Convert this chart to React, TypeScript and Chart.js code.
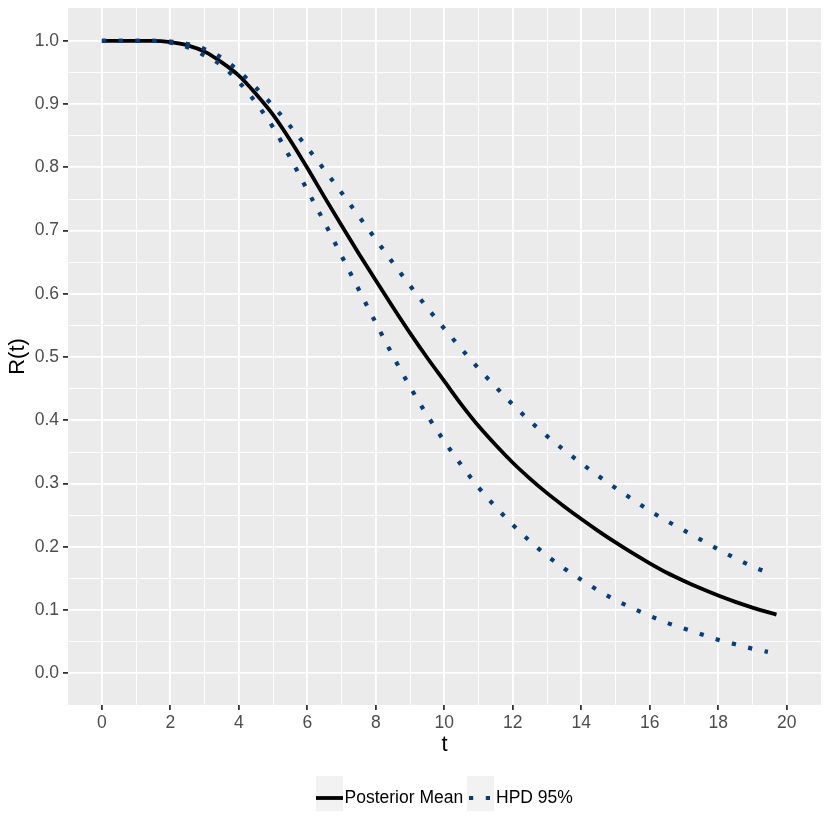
import React, { useEffect, useRef } from "react";
import { Chart, registerables } from "chart.js";

Chart.register(...registerables);

const tMean = [0, 0.5, 1, 1.5, 2, 2.5, 3, 3.5, 4, 4.5, 5, 5.5, 6, 6.5, 7, 7.5, 8, 8.5, 9, 9.5, 10, 10.5, 11, 11.5, 12, 12.5, 13, 13.5, 14, 14.5, 15, 15.5, 16, 16.5, 17, 17.5, 18, 18.5, 19, 19.5, 19.7];
const posteriorMean = [1.0, 1.0, 1.0, 1.0, 0.998, 0.993, 0.983, 0.966, 0.945, 0.916, 0.883, 0.843, 0.799, 0.753, 0.708, 0.664, 0.621, 0.579, 0.538, 0.499, 0.462, 0.425, 0.391, 0.361, 0.333, 0.308, 0.285, 0.264, 0.244, 0.225, 0.207, 0.19, 0.174, 0.159, 0.146, 0.134, 0.123, 0.113, 0.104, 0.096, 0.093];

const tUpper = [0, 0.5, 1, 1.5, 2, 2.5, 3, 3.5, 4, 4.5, 5, 5.5, 6, 6.5, 7, 7.5, 8, 8.5, 9, 9.5, 10, 10.5, 11, 11.5, 12, 12.5, 13, 13.5, 14, 14.5, 15, 15.5, 16, 16.5, 17, 17.5, 18, 18.5, 19, 19.6];
const hpdUpper = [1.0, 1.0, 1.0, 1.0, 0.999, 0.995, 0.987, 0.973, 0.952, 0.926, 0.897, 0.865, 0.831, 0.796, 0.76, 0.723, 0.686, 0.649, 0.613, 0.578, 0.545, 0.513, 0.482, 0.453, 0.425, 0.399, 0.375, 0.353, 0.332, 0.312, 0.293, 0.275, 0.257, 0.241, 0.226, 0.211, 0.196, 0.182, 0.169, 0.156];

const tLower = [0, 0.5, 1, 1.5, 2, 2.5, 3, 3.5, 4, 4.5, 5, 5.5, 6, 6.5, 7, 7.5, 8, 8.5, 9, 9.5, 10, 10.5, 11, 11.5, 12, 12.5, 13, 13.5, 14, 14.5, 15, 15.5, 16, 16.5, 17, 17.5, 18, 18.5, 19, 19.45];
const hpdLower = [1.0, 1.0, 1.0, 1.0, 0.997, 0.99, 0.977, 0.961, 0.935, 0.902, 0.863, 0.815, 0.764, 0.713, 0.66, 0.607, 0.554, 0.502, 0.453, 0.408, 0.367, 0.329, 0.294, 0.263, 0.235, 0.209, 0.186, 0.166, 0.148, 0.131, 0.116, 0.103, 0.091, 0.08, 0.071, 0.062, 0.053, 0.046, 0.039, 0.034];

const xMajorTicks = [0, 2, 4, 6, 8, 10, 12, 14, 16, 18, 20];
const xMinorTicks = [1, 3, 5, 7, 9, 11, 13, 15, 17, 19];
const yMajorTicks = [0, 0.1, 0.2, 0.3, 0.4, 0.5, 0.6, 0.7, 0.8, 0.9, 1.0];
const yMinorTicks = [0.05, 0.15, 0.25, 0.35, 0.45, 0.55, 0.65, 0.75, 0.85, 0.95];

const legendLabels = ["Posterior Mean", "HPD 95%"];

const HPD_COLOR = "#053e78";
const FONT = "'Liberation Sans', Arial, Helvetica, sans-serif";

const isMajor = (list: number[], v: number) => list.some((m) => Math.abs(m - v) < 1e-6);

export default function App() {
  const ref = useRef<HTMLCanvasElement | null>(null);

  useEffect(() => {
    if (!ref.current) return;
    const toXY = (xs: number[], ys: number[]) => xs.map((x, i) => ({ x, y: ys[i] }));

    const panelBg = {
      id: "panelBg",
      beforeDraw(chart: any) {
        const { ctx, chartArea } = chart;
        ctx.save();
        ctx.fillStyle = "#EBEBEB";
        ctx.fillRect(chartArea.left, chartArea.top, chartArea.right - chartArea.left, chartArea.bottom - chartArea.top);
        ctx.restore();
      },
    };

    const ggLegend = {
      id: "ggLegend",
      afterDraw(chart: any) {
        const { ctx } = chart;
        ctx.save();
        const cy = 798;
        ctx.fillStyle = "#F2F2F2";
        ctx.fillRect(316, 776, 27, 35);
        ctx.fillRect(467, 776, 27, 35);
        ctx.strokeStyle = "#000000";
        ctx.lineWidth = 3.8;
        ctx.beginPath();
        ctx.moveTo(316, cy);
        ctx.lineTo(343, cy);
        ctx.stroke();
        ctx.strokeStyle = HPD_COLOR;
        ctx.lineWidth = 4.2;
        ctx.setLineDash([4.2, 12.6]);
        ctx.beginPath();
        ctx.moveTo(469, cy);
        ctx.lineTo(494, cy);
        ctx.stroke();
        ctx.setLineDash([]);
        ctx.fillStyle = "#000000";
        ctx.font = `17.5px ${FONT}`;
        ctx.textBaseline = "middle";
        ctx.textAlign = "left";
        ctx.fillText(legendLabels[0], 344.5, cy);
        ctx.fillText(legendLabels[1], 496, cy);
        ctx.restore();
      },
    };

    const lineDefaults = {
      pointRadius: 0,
      cubicInterpolationMode: "monotone",
      fill: false,
    };

    const chart = new Chart(ref.current, {
      type: "line",
      data: {
        datasets: [
          {
            ...lineDefaults,
            label: legendLabels[1],
            data: toXY(tUpper, hpdUpper),
            borderColor: HPD_COLOR,
            borderWidth: 4.2,
            borderDash: [4.2, 12.6],
            borderCapStyle: "butt",
          },
          {
            ...lineDefaults,
            label: legendLabels[1] + " lower",
            data: toXY(tLower, hpdLower),
            borderColor: HPD_COLOR,
            borderWidth: 4.2,
            borderDash: [4.2, 12.6],
            borderCapStyle: "butt",
          },
          {
            ...lineDefaults,
            label: legendLabels[0],
            data: toXY(tMean, posteriorMean),
            borderColor: "#000000",
            borderWidth: 3.8,
          },
        ],
      },
      options: {
        animation: false,
        responsive: false,
        maintainAspectRatio: false,
        layout: { padding: { left: 0, top: 8, right: 9, bottom: 0 } },
        plugins: { legend: { display: false }, tooltip: { enabled: false } },
        scales: {
          x: {
            type: "linear",
            min: -0.99,
            max: 21.0,
            afterBuildTicks: (scale: any) => {
              scale.ticks = [...xMajorTicks, ...xMinorTicks].sort((a, b) => a - b).map((v) => ({ value: v }));
            },
            afterFit: (scale: any) => {
              scale.height = 125;
              scale.paddingLeft = 0;
              scale.paddingRight = 0;
            },
            border: { display: false },
            grid: {
              color: "#FFFFFF",
              lineWidth: (c: any) => (isMajor(xMajorTicks, c.tick.value) ? 1.8 : 0.9),
              tickColor: (c: any) => (isMajor(xMajorTicks, c.tick.value) ? "#333333" : "rgba(0,0,0,0)"),
              tickWidth: 1.8,
              tickLength: 5,
            },
            ticks: {
              autoSkip: false,
              maxRotation: 0,
              padding: 3,
              color: "#4D4D4D",
              font: { family: FONT, size: 17.5 },
              callback: (v: any) => (isMajor(xMajorTicks, Number(v)) ? String(v) : ""),
            },
            title: {
              display: true,
              text: "t",
              color: "#000000",
              font: { family: FONT, size: 22 },
              padding: { top: 0, bottom: 72 },
            },
          },
          y: {
            type: "linear",
            min: -0.05,
            max: 1.052,
            afterBuildTicks: (scale: any) => {
              scale.ticks = [...yMajorTicks, ...yMinorTicks].sort((a, b) => a - b).map((v) => ({ value: v }));
            },
            afterFit: (scale: any) => {
              scale.width = 68;
              scale.paddingTop = 0;
              scale.paddingBottom = 0;
            },
            border: { display: false },
            grid: {
              color: "#FFFFFF",
              lineWidth: (c: any) => (isMajor(yMajorTicks, c.tick.value) ? 1.8 : 0.9),
              tickColor: (c: any) => (isMajor(yMajorTicks, c.tick.value) ? "#333333" : "rgba(0,0,0,0)"),
              tickWidth: 1.8,
              tickLength: 5,
            },
            ticks: {
              autoSkip: false,
              padding: 4,
              color: "#4D4D4D",
              font: { family: FONT, size: 17.5 },
              callback: (v: any) => (isMajor(yMajorTicks, Number(v)) ? Number(v).toFixed(1) : ""),
            },
            title: {
              display: true,
              text: "R(t)",
              color: "#000000",
              font: { family: FONT, size: 22 },
              padding: { top: 5, bottom: 0 },
            },
          },
        },
      },
      plugins: [panelBg, ggLegend],
    } as any);

    return () => chart.destroy();
  }, []);

  return (
    <div style={{ position: "fixed", left: 0, top: 0, width: 830, height: 830, background: "#FFFFFF" }}>
      <canvas ref={ref} width={830} height={830} style={{ display: "block", width: 830, height: 830 }} />
    </div>
  );
}
